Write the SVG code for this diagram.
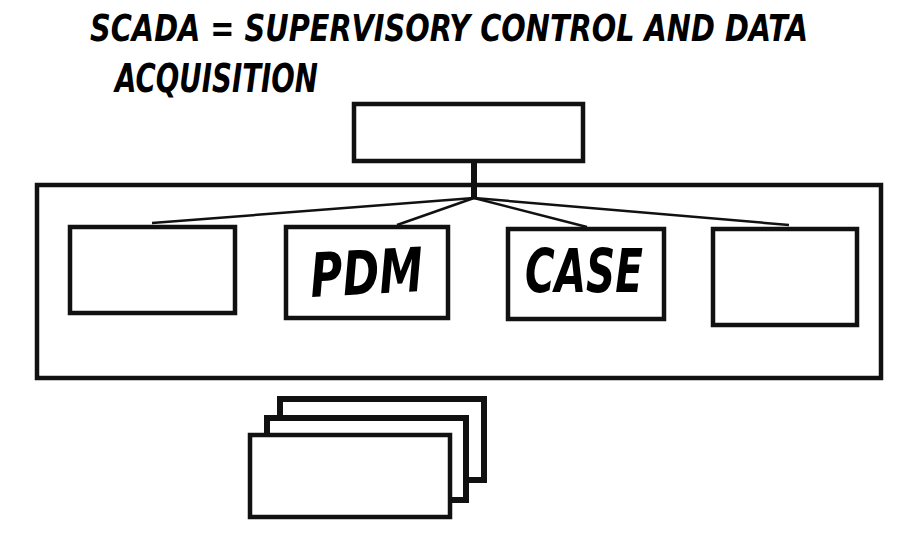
<svg xmlns="http://www.w3.org/2000/svg" width="900" height="540" viewBox="0 0 900 540">
<style>
.box{fill:#fff;stroke:#111;stroke-width:4.5}
.stk{fill:none;stroke:#111;stroke-width:6}
.ln{stroke:#111;stroke-width:2.5;fill:none}
.t{font-family:"DejaVu Sans","Liberation Sans",sans-serif;font-weight:bold;font-style:italic;fill:#000}
</style>
<rect width="900" height="540" fill="#fff"/>
<g id="title">
<text class="t" transform="translate(90,41) scale(1,1.25)" x="0" y="0" font-size="30" textLength="718" lengthAdjust="spacingAndGlyphs">SCADA = SUPERVISORY CONTROL AND DATA</text>
<text class="t" transform="translate(115,92) scale(1,1.25)" x="0" y="0" font-size="31" textLength="203" lengthAdjust="spacingAndGlyphs">ACQUISITION</text>
</g>
<g id="container"><rect class="box" x="37" y="185" width="844" height="193"/></g>
<g id="connectors">
<line x1="474" y1="161" x2="474" y2="199" stroke="#111" stroke-width="6"/>
<line class="ln" x1="474" y1="198" x2="152" y2="223"/>
<line class="ln" x1="474" y1="198" x2="397" y2="225"/>
<line class="ln" x1="474" y1="198" x2="587" y2="227"/>
<line class="ln" x1="474" y1="198" x2="789" y2="225"/>
</g>
<g id="top"><rect class="box" x="354" y="104" width="229" height="57"/></g>
<g id="n1"><rect class="box" x="70" y="227" width="165" height="86"/></g>
<g id="pdm"><rect class="box" x="286" y="227" width="162" height="91"/>
<text class="t" x="310" y="294" font-size="61" textLength="113" lengthAdjust="spacingAndGlyphs" transform="rotate(-3 366 270)">PDM</text></g>
<g id="case"><rect class="box" x="508" y="229" width="156" height="90"/>
<text class="t" x="525" y="292" font-size="61" textLength="118" lengthAdjust="spacingAndGlyphs">CASE</text></g>
<g id="n4"><rect class="box" x="713" y="229" width="144" height="96"/></g>
<g id="stack">
<polyline class="stk" points="280,418 280,399 484,399 484,480 466,480"/>
<polyline class="stk" points="267,434 267,418 466,418 466,500 451,500"/>
<rect class="box" x="250" y="435" width="200" height="82" stroke-width="5.5"/>
</g>
</svg>
